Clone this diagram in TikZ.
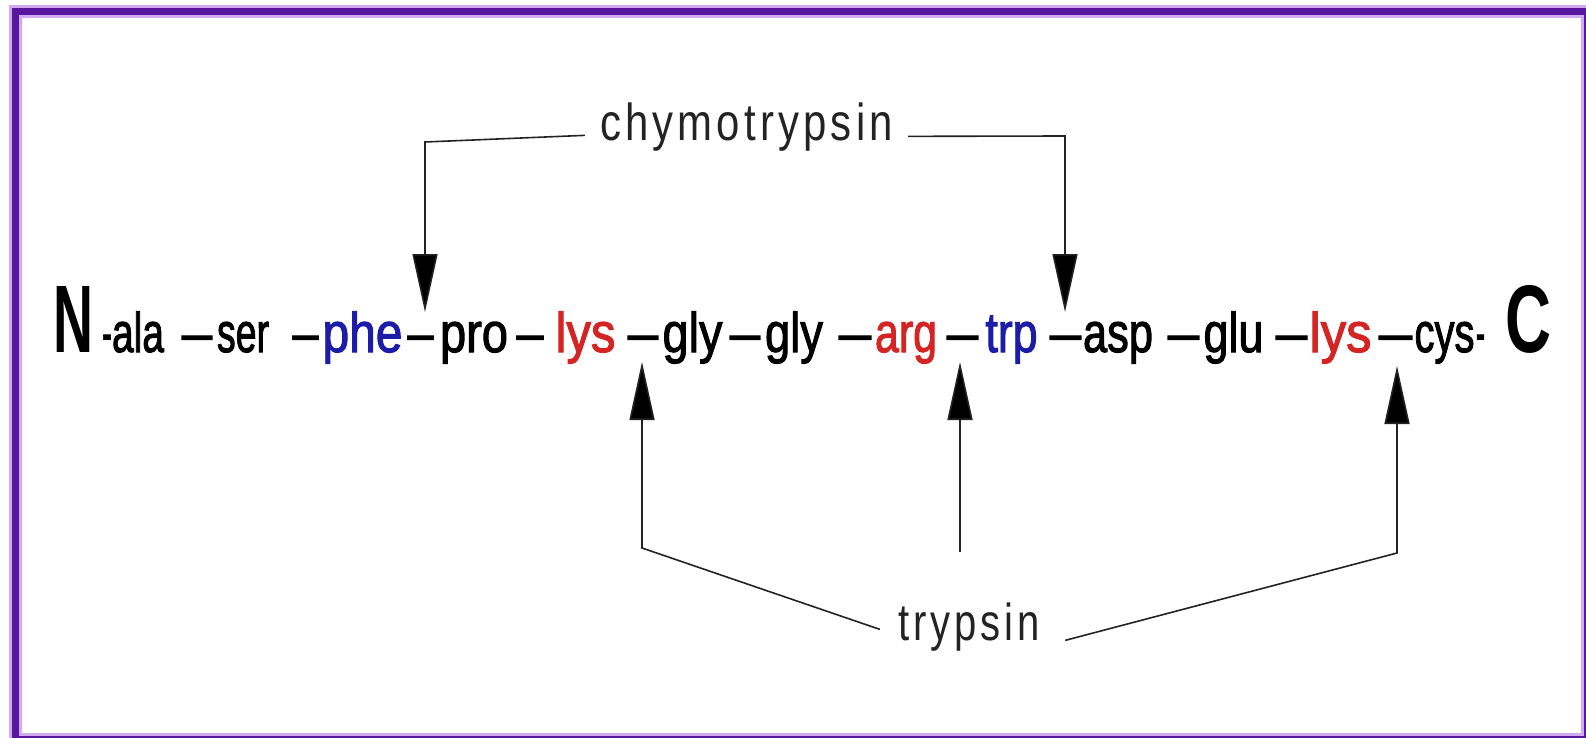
\documentclass[tikz,border=0pt]{standalone}
\usepackage{fontspec}
\usepackage{graphicx}
\setmainfont{Liberation Sans}
\newfontfamily\seqfont{Liberation Sans}[FakeBold=2]
\newfontfamily\termfont{Liberation Sans}[LetterSpace=10]
\usetikzlibrary{arrows.meta}
\definecolor{frameviolet}{RGB}{88,22,158}
\definecolor{framehalo}{RGB}{210,170,244}
\definecolor{aromblue}{RGB}{28,28,168}
\definecolor{basicred}{RGB}{212,36,36}
\definecolor{leader}{RGB}{35,35,35}
% squeeze a word to a given advance width, keeping its height
\newcommand{\fitw}[2]{\resizebox{#1pt}{\height}{#2}}

\begin{document}
\begin{tikzpicture}[x=1pt,y=-1pt,
  res/.style={anchor=base, inner sep=0pt, font=\seqfont\fontsize{56}{60}\selectfont},
  term/.style={anchor=base, inner sep=0pt, font=\bfseries\fontsize{96}{100}\selectfont},
  aro/.style={res, text=aromblue},
  bas/.style={res, text=basicred},
  enzyme/.style={anchor=base, inner xsep=15pt, inner ysep=0pt, text=leader,
    font=\termfont\fontsize{52}{56}\selectfont},
  cut/.style={draw=leader, line width=1.6pt,
    -{Triangle[length=58pt,width=25pt,fill=black]}},
]
\useasboundingbox (0,0) rectangle (1586,738);
\fill[white] (0,0) rectangle (1586,738);

% frame
\draw[framehalo, line width=13pt] (15,12) rectangle (1587,739);
\draw[frameviolet, line width=7pt] (15,12) rectangle (1587,739);

% peptide chain, baseline y = 352
\node[term] (nterm) at (73,352)     {\fitw{40}{N}};
\node[res]  (b0)    at (107,352)    {\fitw{10}{-}};
\node[res]  (ala)   at (138,352)    {\fitw{52}{ala}};
\node[res]  (b1)    at (197,352)    {\fitw{30}{–}};
\node[res]  (ser)   at (243,352)    {\fitw{52}{ser}};
\node[res]  (b2)    at (305.5,352)  {\fitw{26}{–}};
\node[aro]  (phe)   at (362.5,352)  {\fitw{80}{phe}};
\node[res]  (b3)    at (420.5,352)  {\fitw{26}{–}};
\node[res]  (pro)   at (474,352)    {\fitw{68}{pro}};
\node[res]  (b4)    at (530,352)    {\fitw{27}{–}};
\node[bas]  (lysA)  at (585.5,352)  {\fitw{60}{lys}};
\node[res]  (b5)    at (643,352)    {\fitw{30}{–}};
\node[res]  (glyA)  at (692.5,352)  {\fitw{60}{gly}};
\node[res]  (b6)    at (745,352)    {\fitw{30}{–}};
\node[res]  (glyB)  at (794,352)    {\fitw{58}{gly}};
\node[res]  (b7)    at (855,352)    {\fitw{32}{–}};
\node[bas]  (arg)   at (906,352)    {\fitw{62}{arg}};
\node[res]  (b8)    at (962.5,352)  {\fitw{31}{–}};
\node[aro]  (trp)   at (1011.5,352) {\fitw{52}{trp}};
\node[res]  (b9)    at (1065.5,352) {\fitw{31}{–}};
\node[res]  (asp)   at (1118,352)   {\fitw{70}{asp}};
\node[res]  (b10)   at (1183.5,352) {\fitw{31}{–}};
\node[res]  (glu)   at (1233.5,352) {\fitw{60}{glu}};
\node[res]  (b11)   at (1291.5,352) {\fitw{31}{–}};
\node[bas]  (lysB)  at (1340.5,352) {\fitw{62}{lys}};
\node[res]  (b12)   at (1395.5,352) {\fitw{33}{–}};
\node[res]  (cys)   at (1444.5,352) {\fitw{60}{cys}};
\node[res]  (b13)   at (1480.5,352) {\fitw{9}{-}};
\node[term] (cterm) at (1528,352)   {\fitw{46}{C}};

% enzymes
\node[enzyme] (chymo) at (746.5,141) {\fitw{293}{chymotrypsin}};
\node[enzyme, inner xsep=18pt] (tryp) at (969,640) {\fitw{142}{trypsin}};

% chymotrypsin cleavage sites
\coordinate (chymoL) at (425,142);
\coordinate (chymoR) at (1065,136);
\coordinate (cutPhePro) at (425,312);
\coordinate (cutTrpAsp) at (1065,312);
\draw[cut] ([yshift=3pt]chymo.mid west) -- (chymoL) -- (cutPhePro);
\draw[cut] ([yshift=2pt]chymo.mid east) -- (chymoR) -- (cutTrpAsp);

% trypsin cleavage sites
\coordinate (trypL) at (642,548);
\coordinate (trypM) at (960,552);
\coordinate (trypR) at (1397,553);
\coordinate (cutLysGly) at (642,362);
\coordinate (cutArgTrp) at (960,362);
\coordinate (cutLysCys) at (1397,366);
\draw[cut] ([yshift=8pt]tryp.mid west) -- (trypL) -- (cutLysGly);
\draw[cut] (trypM) -- (cutArgTrp);
\draw[cut] ([xshift=7pt,yshift=-3pt]tryp.mid east) -- (trypR) -- (cutLysCys);
\end{tikzpicture}
\end{document}
